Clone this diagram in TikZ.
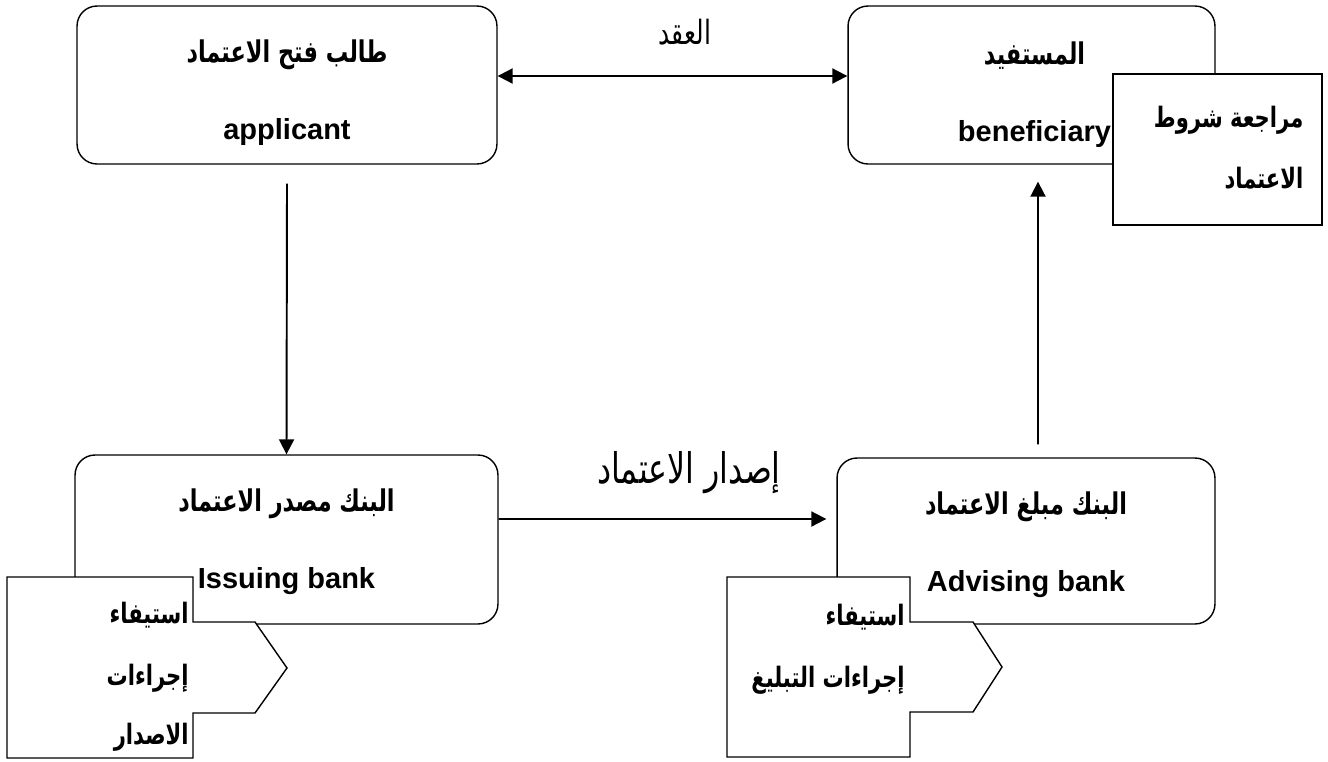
\documentclass[tikz,border=0pt]{standalone}
\usepackage{fontspec}
\setmainfont{Liberation Sans}
\newfontfamily\arabicfont[Script=Arabic, FakeStretch=0.75]{DejaVu Sans}
\usetikzlibrary{arrows.meta,positioning}
\TeXXeTstate=1

\newcommand{\artext}[1]{{\arabicfont\beginR #1\endR}}
\newcommand{\arname}[1]{{\fontsize{17}{44}\selectfont\arabicfont\beginR #1\endR}}

\tikzset{
	party/.style={draw, line width=0.8pt, rounded corners=0.4cm},
	partytext/.style={align=center, font=\bfseries\fontsize{16.5}{44}\selectfont},
	callout/.style={draw, line width=0.8pt, fill=white},
	calltext/.style={align=right, anchor=north east, inner sep=0pt, font=\bfseries\fontsize{16}{35}\selectfont},
	flow/.style={line width=1.1pt, -{Triangle[length=0.3cm,width=0.3cm]}},
	both/.style={line width=1.1pt, {Triangle[length=0.3cm,width=0.3cm]}-{Triangle[length=0.3cm,width=0.3cm]}},
	flowlabel/.style={font=\fontsize{19}{22}\selectfont}
}

\begin{document}
\begin{tikzpicture}[x=0.02cm, y=-0.02cm]
	\useasboundingbox (0,0) rectangle (1328,761);

	\coordinate (P1) at (287, 85);
	\coordinate (P2) at (1031.5, 85);
	\coordinate (P3) at (286.5, 539.5);
	\coordinate (P4) at (1026, 541);

	\coordinate (C1) at (7, 577);
	\coordinate (C2) at (727, 577);
	\coordinate (C3) at (1217.5, 149.5);

	\node (applicant) [party, minimum width=8.4cm, minimum height=3.16cm] at (P1) {};
	\node (beneficiary) [party, minimum width=7.34cm, minimum height=3.16cm] at (P2) {};
	\node (issuing) [party, minimum width=8.46cm, minimum height=3.38cm] at (P3) {};
	\node (advising) [party, minimum width=7.56cm, minimum height=3.32cm] at (P4) {};

	\node (applicanttext) [partytext] at ([yshift=-0.15cm]applicant.center) {\arname{طالب فتح الاعتماد}\\applicant};
	\node (beneficiarytext) [partytext] at ([xshift=0.06cm, yshift=-0.2cm]beneficiary.center) {\arname{المستفيد}\\beneficiary};
	\node (issuingtext) [partytext] at ([yshift=-0.05cm]issuing.center) {\arname{البنك مصدر الاعتماد}\\Issuing bank};
	\node (advisingtext) [partytext] at ([yshift=-0.07cm]advising.center) {\arname{البنك مبلغ الاعتماد}\\Advising bank};

	\draw[callout] (C1) -- ++(186,0) -- ++(0,45) -- ++(62,0) -- ++(32,46) -- ++(-32,45) -- ++(-62,0) -- ++(0,45) -- ++(-186,0) -- cycle;
	\draw[callout] (C2) -- ++(183,0) -- ++(0,45) -- ++(63,0) -- ++(29,45) -- ++(-29,45) -- ++(-63,0) -- ++(0,45) -- ++(-183,0) -- cycle;
	\node (review) [callout, minimum width=4.18cm, minimum height=3.02cm] at (C3) {};

	\node (issuingnote) [calltext] at ([xshift=3.64cm, yshift=-0.5cm]C1) {\artext{استيفاء}\\\artext{إجراءات}\\[-0.04cm]\artext{الاصدار}};
	\node (advisingnote) [calltext] at ([xshift=3.56cm, yshift=-0.54cm]C2) {\artext{استيفاء}\\\artext{إجراءات التبليغ}};
	\node (reviewnote) [calltext, anchor=east] at ([xshift=-0.38cm, yshift=0.04cm]review.east) {\artext{مراجعة شروط}\\\artext{الاعتماد}};

	\draw[both] ([yshift=0.18cm]applicant.east) -- node[flowlabel, xshift=0.25cm, yshift=0.88cm] (contract) {\artext{العقد}} ([yshift=0.18cm]beneficiary.west);
	\draw[flow] ([yshift=-0.38cm]applicant.south) -- (issuing.north);
	\draw[flow] ([yshift=0.41cm]issuing.east) -- node[flowlabel, font=\fontsize{24}{26}\selectfont, xshift=0.53cm, yshift=0.92cm] (issue) {\artext{إصدار الاعتماد}} ([xshift=-0.2cm, yshift=0.44cm]advising.west);
	\draw[flow] ([xshift=0.24cm, yshift=0.26cm]advising.north) -- ([xshift=0.13cm, yshift=-0.34cm]beneficiary.south);
\end{tikzpicture}
\end{document}
